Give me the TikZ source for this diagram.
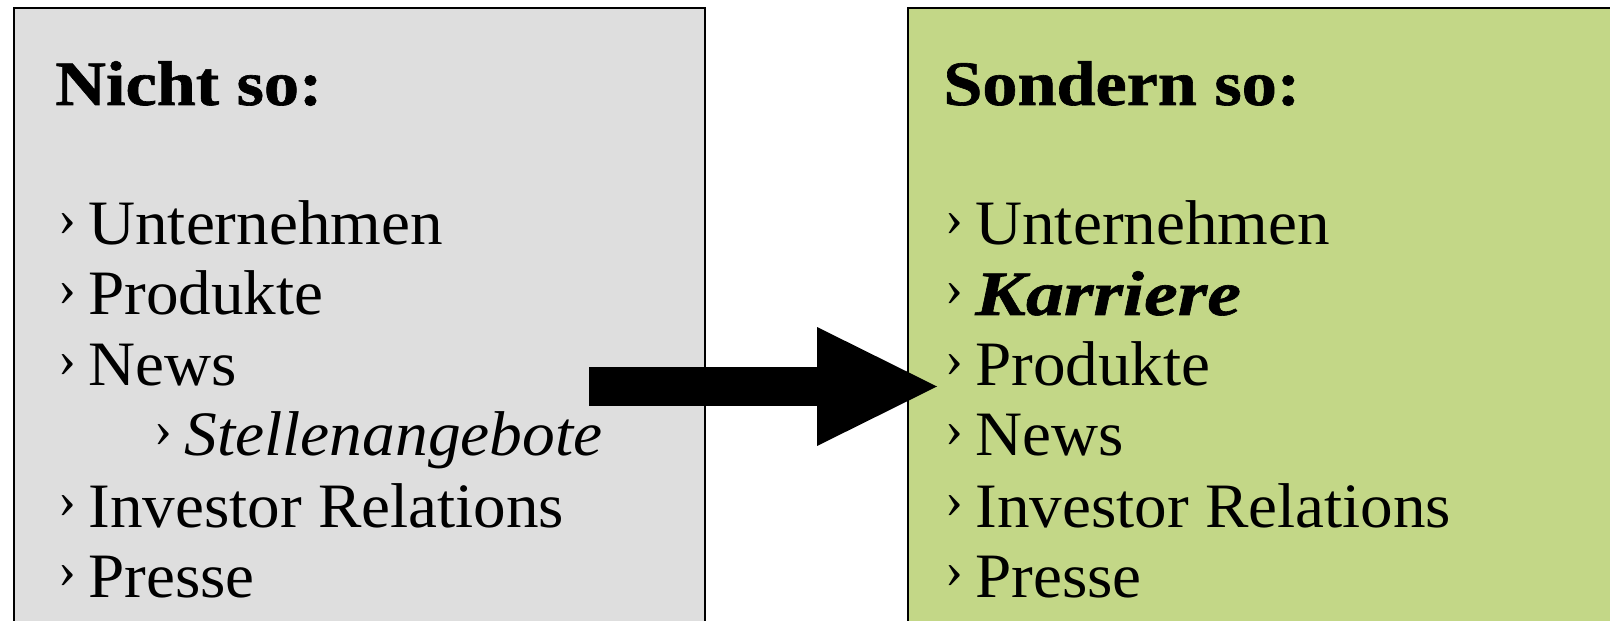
\documentclass[tikz,border=0pt]{standalone}
\usepackage{fontspec}
\setmainfont{Liberation Serif}[
  UprightFeatures={FakeStretch=1.03},
  ItalicFeatures={FakeStretch=1.035},
  BoldFeatures={FakeStretch=1.11,FakeBold=1},
  BoldItalicFeatures={FakeStretch=1.2,FakeBold=1}]
\usetikzlibrary{arrows.meta,positioning}

\definecolor{boxgray}{RGB}{222,222,222}
\definecolor{boxgreen}{RGB}{195,215,135}

\newcommand{\mk}{\makebox[0.6cm][l]{\raisebox{0.19cm}{\fontsize{30}{30}\selectfont ›}}}

\begin{document}
\begin{tikzpicture}[x=0.02cm,y=-0.02cm,
    panel/.style={draw=black,line width=1.1pt,anchor=north west,inner sep=0pt,minimum height=13cm},
    head/.style={anchor=base west,inner sep=0pt,font=\fontsize{36}{40}\selectfont\bfseries},
    entry/.style={anchor=base west,inner sep=0pt,font=\fontsize{36}{40}\selectfont},
    bigarrow/.style={line width=0.8cm,-{Triangle[length=2.4cm,width=2.38cm,line width=0pt]}}]
  \useasboundingbox (0,0) rectangle (1610,621);
  \clip (0,0) rectangle (1610,621);
  \node[panel,fill=boxgray,minimum width=13.82cm]  (left)  at (13,7)  {};
  \node[panel,fill=boxgreen,minimum width=15cm]    (right) at (907,7) {};

  \node[head]  (lhead) at (55,105)  {Nicht so:};
  \node[entry] (l1)    at (58,245)  {\mk Unternehmen};
  \node[entry] (l2)    at (58,315)  {\mk Produkte};
  \node[entry] (l3)    at (58,386)  {\mk News};
  \node[entry] (l4)    at (154,456) {\mk\itshape Stellenangebote};
  \node[entry] (l5)    at (58,527)  {\mk Investor Relations};
  \node[entry] (l6)    at (58,597)  {\mk Presse};

  \node[head]  (rhead) at (943,105) {Sondern so:};
  \node[entry] (r1)    at (945,245) {\mk Unternehmen};
  \node[entry] (r2)    at (945,315) {\mk\bfseries\itshape Karriere};
  \node[entry] (r3)    at (945,386) {\mk Produkte};
  \node[entry] (r4)    at (945,456) {\mk News};
  \node[entry] (r5)    at (945,527) {\mk Investor Relations};
  \node[entry] (r6)    at (945,597) {\mk Presse};

  \coordinate (from) at (589,386.5);
  \coordinate (to)   at (937,386.5);
  \draw[bigarrow] (from) -- (to);
\end{tikzpicture}
\end{document}
